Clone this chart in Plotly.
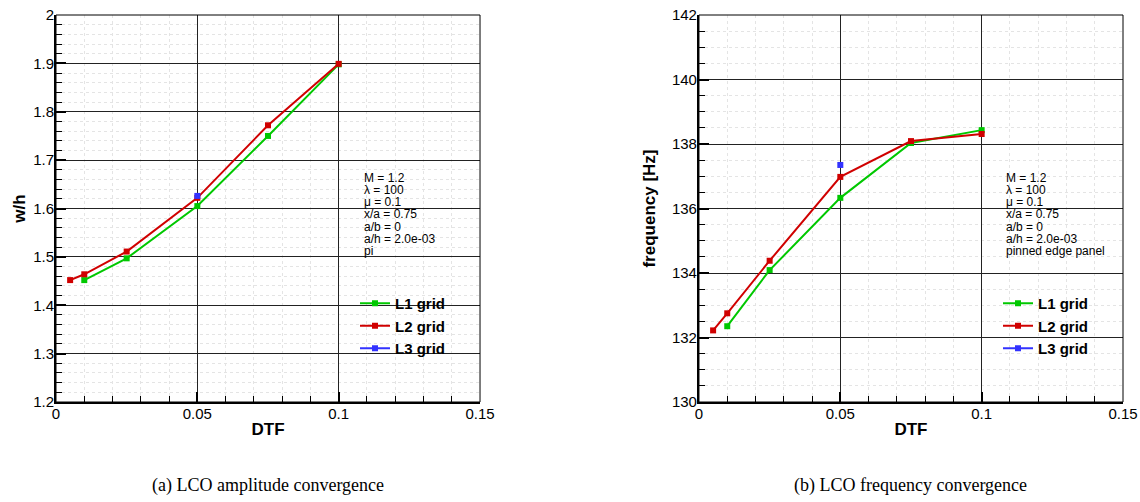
import plotly.graph_objects as go
from plotly.subplots import make_subplots

# ---- data ----
dtf_L1 = [0.01, 0.025, 0.05, 0.075, 0.1]
dtf_L2 = [0.005, 0.01, 0.025, 0.05, 0.075, 0.1]
dtf_L3 = [0.05]
amp_L1 = [1.452, 1.497, 1.605, 1.750, 1.898]
amp_L2 = [1.452, 1.464, 1.511, 1.622, 1.772, 1.899]
amp_L3 = [1.626]
freq_L1 = [132.35, 134.09, 136.33, 138.03, 138.43]
freq_L2 = [132.22, 132.75, 134.38, 136.98, 138.09, 138.31]
freq_L3 = [137.35]
series_names = ["L1 grid", "L2 grid", "L3 grid"]
series_colors = ["#00c800", "#d00000", "#3232ff"]
info_left = ["M = 1.2", "λ = 100", "μ = 0.1", "x/a = 0.75", "a/b = 0", "a/h = 2.0e-03", "pi"]
info_right = ["M = 1.2", "λ = 100", "μ = 0.1", "x/a = 0.75", "a/b = 0", "a/h = 2.0e-03", "pinned edge panel"]
captions = ["(a) LCO amplitude convergence", "(b) LCO frequency convergence"]
x_ticks = [0, 0.05, 0.1, 0.15]
x_ticklabels = ["0", "0.05", "0.1", "0.15"]
amp_ticks = [1.2, 1.3, 1.4, 1.5, 1.6, 1.7, 1.8, 1.9, 2.0]
amp_ticklabels = ["1.2", "1.3", "1.4", "1.5", "1.6", "1.7", "1.8", "1.9", "2"]
freq_ticks = [130, 132, 134, 136, 138, 140, 142]

FONT = "Liberation Sans, Arial, sans-serif"
W, H = 1140, 502
# target plot area in screen pixels: x 56..1123, y 15..402
ML, MT = 56, 15
MR = W - 1123
MB = H - 402
PW = W - ML - MR
PH = H - MT - MB


def sx(px):  # screen x -> paper
    return (px - ML) / PW


def sy(py):  # screen y -> paper
    return (H - MB - py) / PH


fig = make_subplots(rows=1, cols=2, horizontal_spacing=0.2052)
fig.update_xaxes(domain=[0, 0.3974], row=1, col=1)
fig.update_xaxes(domain=[0.6026, 1.0], row=1, col=2)

xs = [dtf_L1, dtf_L2, dtf_L3]
amps = [amp_L1, amp_L2, amp_L3]
freqs = [freq_L1, freq_L2, freq_L3]
for i in range(3):
    fig.add_trace(go.Scatter(x=xs[i], y=amps[i], mode="lines+markers", name=series_names[i],
                             line=dict(color=series_colors[i], width=2),
                             marker=dict(symbol="square", size=6, color=series_colors[i]),
                             legend="legend"), row=1, col=1)
for i in range(3):
    fig.add_trace(go.Scatter(x=xs[i], y=freqs[i], mode="lines+markers", name=series_names[i],
                             line=dict(color=series_colors[i], width=2),
                             marker=dict(symbol="square", size=6, color=series_colors[i]),
                             legend="legend2"), row=1, col=2)

MINOR_GRID = "#e4e4e4"
axis_common = dict(showline=True, linewidth=2, linecolor="black", mirror=False,
                   ticks="inside", ticklen=10, tickwidth=2, tickcolor="black",
                   showgrid=True, gridcolor="#222", gridwidth=1, zeroline=False, automargin=False,
                   ticklabelstandoff=-3, ticklabeloverflow="allow",
                   tickfont=dict(family=FONT, size=15, color="black"))
for c in (1, 2):
    fig.update_xaxes(range=[0, 0.15], tickvals=x_ticks, ticktext=x_ticklabels,
                     title=dict(text="<b>DTF</b>", font=dict(family=FONT, size=17, color="black"), standoff=2),
                     minor=dict(dtick=0.01, tick0=0, ticks="inside", ticklen=6, tickwidth=1, tickcolor="black",
                                showgrid=True, gridcolor=MINOR_GRID, griddash="dot", gridwidth=1),
                     row=1, col=c, **axis_common)
fig.update_yaxes(range=[1.2, 2.0], tickvals=amp_ticks, ticktext=amp_ticklabels,
                 title=dict(text="<b>w/h</b>", font=dict(family=FONT, size=17, color="black"), standoff=3),
                 minor=dict(dtick=0.02, tick0=1.2, ticks="inside", ticklen=6, tickwidth=1, tickcolor="black",
                            showgrid=True, gridcolor=MINOR_GRID, griddash="dot", gridwidth=1),
                 row=1, col=1, **axis_common)
fig.update_yaxes(range=[130, 142], tickvals=freq_ticks,
                 title=dict(text="<b>frequency [Hz]</b>", font=dict(family=FONT, size=17, color="black"), standoff=12),
                 minor=dict(dtick=0.5, tick0=130, ticks="inside", ticklen=6, tickwidth=1, tickcolor="black",
                            showgrid=True, gridcolor=MINOR_GRID, griddash="dot", gridwidth=1),
                 row=1, col=2, **axis_common)

# frame (top/right thin border)
for xr, yr in (("x domain", "y domain"), ("x2 domain", "y2 domain")):
    fig.add_shape(type="rect", xref=xr, yref=yr, x0=0, x1=1, y0=0, y1=1,
                  line=dict(color="black", width=1), layer="above")

# parameter text blocks
for lines, x0 in ((info_left, 362), (info_right, 1004)):
    for k, t in enumerate(lines):
        fig.add_annotation(text=t, xref="paper", yref="paper",
                           x=sx(x0), y=sy(177.5 + 12.3 * k),
                           xanchor="left", yanchor="middle", showarrow=False,
                           font=dict(family=FONT, size=12, color="black"))

# captions
for k, t in enumerate(captions):
    fig.add_annotation(text=t, xref="paper", yref="paper", x=[0.1987, 0.8013][k], y=sy(485),
                       xanchor="center", yanchor="middle", showarrow=False,
                       font=dict(family="Liberation Serif, DejaVu Serif, serif", size=18, color="black"))

legend_common = dict(bgcolor="rgba(0,0,0,0)", borderwidth=0, tracegroupgap=0,
                     font=dict(family=FONT, size=15, color="black", weight="bold"),
                     xanchor="left", yanchor="top")
fig.update_layout(
    width=W, height=H,
    margin=dict(l=ML, r=MR, t=MT, b=MB),
    paper_bgcolor="white", plot_bgcolor="white",
    legend=dict(x=sx(355), y=sy(287), **legend_common),
    legend2=dict(x=sx(998), y=sy(287), **legend_common),
)

fig.write_html("out.html", config={"displayModeBar": False},
               post_script="document.body.style.margin='0';document.body.style.overflow='hidden';")
